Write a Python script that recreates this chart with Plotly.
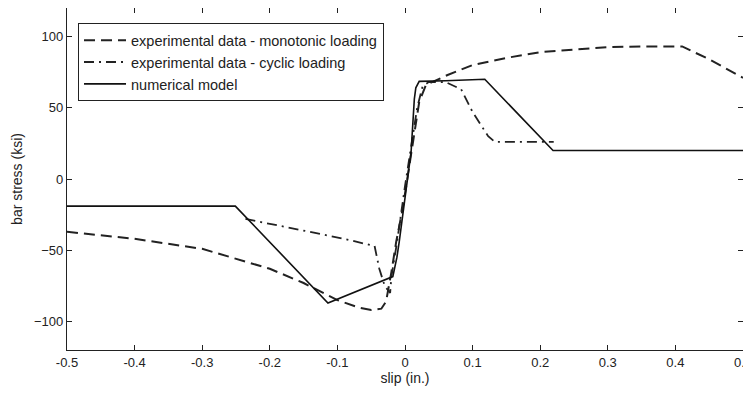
import plotly.graph_objects as go

# monotonic loading (dashed)
mono_x = [-0.5, -0.4, -0.3, -0.2, -0.15, -0.1, -0.07, -0.05, -0.035, -0.028, -0.02, -0.013, -0.0035, 0.009, 0.021, 0.031, 0.063, 0.1, 0.15, 0.2, 0.25, 0.3, 0.35, 0.41, 0.45, 0.5]
mono_y = [-37, -42, -49, -63, -73, -85, -90, -92, -91, -86, -65, -44, -21, 16, 54, 66, 73, 80, 85, 89, 91, 92.5, 93, 93, 84, 71]

# cyclic loading (dash-dot)
cyc_x = [-0.236, -0.15, -0.09, -0.045, -0.038, -0.03, -0.022, -0.02, -0.012, 0.0, 0.01, 0.018, 0.026, 0.035, 0.06, 0.083, 0.1, 0.123, 0.133, 0.17, 0.22]
cyc_y = [-28, -36, -42, -47, -63, -75, -80, -68, -45, -5, 25, 50, 65, 68, 68, 63, 47, 30, 26, 26, 26]

# numerical model (solid)
num_x = [-0.5, -0.251, -0.114, -0.018, -0.012, -0.0085, 0.009, 0.0138, 0.016, 0.021, 0.06, 0.118, 0.219, 0.5]
num_y = [-19, -19, -87, -68.5, -55, -44, 19, 56, 64, 68.5, 69, 70, 20, 20]

xtick_vals = [-0.5, -0.4, -0.3, -0.2, -0.1, 0, 0.1, 0.2, 0.3, 0.4, 0.5]
xtick_text = ["-0.5", "-0.4", "-0.3", "-0.2", "-0.1", "0", "0.1", "0.2", "0.3", "0.4", "0.5"]
ytick_vals = [-100, -50, 0, 50, 100]

fig = go.Figure()
fig.add_trace(go.Scatter(x=mono_x, y=mono_y, mode="lines", name="experimental data - monotonic loading",
                         line=dict(color="#222", width=2, dash="11px,6px")))
fig.add_trace(go.Scatter(x=cyc_x, y=cyc_y, mode="lines", name="experimental data - cyclic loading",
                         line=dict(color="#222", width=1.8, dash="10px,5px,2px,5px")))
fig.add_trace(go.Scatter(x=num_x, y=num_y, mode="lines", name="numerical model",
                         line=dict(color="#111", width=1.6)))

axis_common = dict(showgrid=False, zeroline=False, showline=True, linecolor="#222", linewidth=1.2,
                   mirror="ticks", ticks="inside", ticklen=5, tickcolor="#222", automargin=False,
                   ticklabeloverflow="allow",
                   tickfont=dict(family="Liberation Sans Narrow, Arial Narrow, Arial, sans-serif", size=13, color="#222"))

fig.update_layout(
    width=743, height=387,
    margin=dict(l=59, r=8, t=0, b=45),
    paper_bgcolor="white", plot_bgcolor="white",
    font=dict(family="Arial, Liberation Sans, sans-serif", color="#222", size=13),
    xaxis=dict(range=[-0.5, 0.5], tickvals=xtick_vals, ticktext=xtick_text,
               title=dict(text="slip (in.)", standoff=2, font=dict(size=14)), **axis_common),
    yaxis=dict(range=[-120, 120], tickvals=ytick_vals,
               title=dict(text="bar stress (ksi)", standoff=8, font=dict(size=14)), **axis_common),
    legend=dict(x=0.016, y=0.956, xanchor="left", yanchor="top", bgcolor="white",
                bordercolor="#222", borderwidth=1.2, font=dict(size=14.5, color="#222"),
                tracegroupgap=0, itemwidth=42),
    showlegend=True,
)

fig.write_html("out.html")
